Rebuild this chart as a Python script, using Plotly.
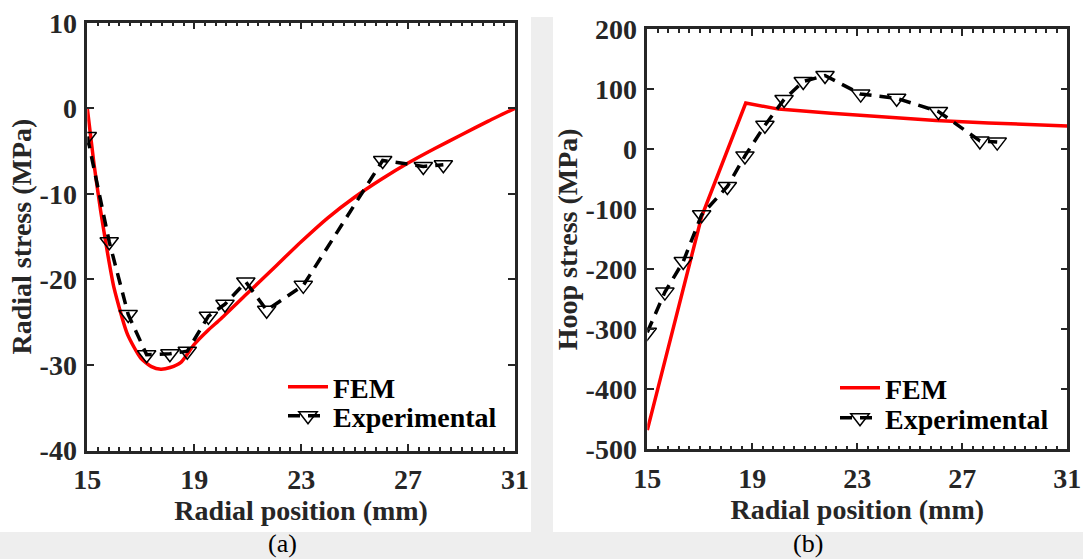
import plotly.graph_objects as go

W, H = 1083, 559

# ---------- data: (a) radial stress ----------
fem_a_x = [15, 15.25, 15.5, 15.75, 16, 16.5, 17, 17.4, 17.75, 18.1, 18.5, 19, 19.5, 20,
           21, 22, 23, 24, 25, 26, 27, 28, 29, 30, 31]
fem_a_y = [0, -6.5, -12, -16.8, -21, -26.4, -29.2, -30.2, -30.5, -30.3, -29.7, -27.6, -26.0, -24.6,
           -21.6, -18.6, -15.6, -12.8, -10.4, -8.3, -6.4, -4.7, -3.1, -1.5, 0]
exp_a_x = [15.0, 15.82, 16.53, 17.22, 18.09, 18.74, 19.53, 20.15, 20.93, 21.71, 23.08, 26.05, 27.57, 28.32]
exp_a_y = [-3.3, -15.6, -24.1, -28.8, -28.7, -28.4, -24.3, -22.9, -20.3, -23.6, -20.7, -6.1, -6.8, -6.6]

# ---------- data: (b) hoop stress ----------
fem_b_x = [15, 16, 17.07, 18.75, 20, 22, 24, 26, 28, 31]
fem_b_y = [-468, -296, -112, 77, 67, 60, 54, 48, 44, 39]
exp_b_x = [15.0, 15.67, 16.37, 17.07, 18.05, 18.72, 19.48, 20.21, 20.94, 21.77, 23.13, 24.50, 26.09, 27.67, 28.33]
exp_b_y = [-305, -238, -187, -109, -62, -11, 40, 83, 113, 123, 92, 85, 63, 14, 12]

x_ticks = [15, 19, 23, 27, 31]
ya_ticks = [10, 0, -10, -20, -30, -40]
yb_ticks = [200, 100, 0, -100, -200, -300, -400, -500]

FONT = "Liberation Serif"
DARK = "#262626"

fig = go.Figure()

line_fem = dict(color="#ff0000", width=3.5)
line_exp = dict(color="black", width=3.5, dash="12px,8px")
marker_exp = dict(symbol="triangle-down-open", size=16, color="black", line=dict(width=1.5, color="black"))

fig.add_trace(go.Scatter(x=fem_a_x, y=fem_a_y, mode="lines", line=dict(**line_fem, shape="spline", smoothing=0.6),
                         name="FEM", xaxis="x", yaxis="y", legend="legend"))
fig.add_trace(go.Scatter(x=exp_a_x, y=exp_a_y, mode="lines+markers", line=line_exp, marker=marker_exp,
                         name="Experimental", xaxis="x", yaxis="y", legend="legend2"))
fig.add_trace(go.Scatter(x=fem_b_x, y=fem_b_y, mode="lines", line=line_fem,
                         name="FEM", xaxis="x2", yaxis="y2", legend="legend3"))
fig.add_trace(go.Scatter(x=exp_b_x, y=exp_b_y, mode="lines+markers", line=line_exp, marker=marker_exp,
                         name="Experimental", xaxis="x2", yaxis="y2", legend="legend4"))

tickfont = dict(family=FONT, size=28, color=DARK, weight="bold")
titlefont = dict(family=FONT, size=28, color=DARK, weight="bold")

def xax(domain, anchor):
    return dict(domain=domain, anchor=anchor, range=[15, 31], tickvals=x_ticks,
                ticktext=[str(v) for v in x_ticks], automargin=False,
                ticks="inside", ticklen=7, tickwidth=2, tickcolor=DARK, ticklabelstandoff=2,
                minor=dict(ticks="inside", dtick=0.4, tick0=15, ticklen=4, tickwidth=1.5, tickcolor=DARK),
                showline=True, linewidth=2.5, linecolor=DARK, mirror="ticks", showgrid=False, zeroline=False,
                tickfont=tickfont, title=dict(text="Radial position (mm)", font=titlefont, standoff=0))

def yax(domain, anchor, rng, tv, title):
    return dict(domain=domain, anchor=anchor, range=rng, tickvals=tv,
                ticktext=[str(v) for v in tv], automargin=False,
                ticks="inside", ticklen=7, tickwidth=2, tickcolor=DARK, ticklabelstandoff=2,
                showline=True, linewidth=2.5, linecolor=DARK, mirror="ticks", showgrid=False, zeroline=False,
                tickfont=tickfont, title=dict(text=title, font=titlefont, standoff=0))

legfont = dict(family=FONT, size=28, color="black", weight="bold")

def leg(x, y):
    return dict(x=x / W, y=1 - y / H, xanchor="left", yanchor="top", bgcolor="rgba(0,0,0,0)",
                font=legfont, tracegroupgap=0, itemwidth=40)

fig.update_layout(
    width=W, height=H,
    margin=dict(l=0, r=0, t=0, b=0, autoexpand=False),
    paper_bgcolor="white", plot_bgcolor="white",
    xaxis=xax([87.3 / W, 515 / W], "y"),
    yaxis=yax([1 - 450.5 / H, 1 - 22.7 / H], "x", [-40, 10], ya_ticks, "Radial stress (MPa)"),
    xaxis2=xax([647.3 / W, 1067.3 / W], "y2"),
    yaxis2=yax([1 - 449.3 / H, 1 - 29.3 / H], "x2", [-500, 200], yb_ticks, "Hoop stress (MPa)"),
    legend=leg(283, 362),
    legend2=leg(283, 391),
    legend3=leg(835, 363),
    legend4=leg(835, 393),
    showlegend=True,
    shapes=[
        dict(type="rect", xref="paper", yref="paper", x0=531 / W, x1=553 / W, y0=0, y1=1 - 17 / H,
             fillcolor="#eeeeee", line=dict(width=0), layer="below"),
        dict(type="rect", xref="paper", yref="paper", x0=0, x1=1, y0=0, y1=1 - 532 / H,
             fillcolor="#eeeeee", line=dict(width=0), layer="below"),
    ],
    annotations=[
        dict(text="(a)", x=282 / W, y=1 - 543 / H, xref="paper", yref="paper", showarrow=False,
             font=dict(family=FONT, size=26, color="black"), xanchor="center", yanchor="middle", borderpad=0),
        dict(text="(b)", x=808 / W, y=1 - 543 / H, xref="paper", yref="paper", showarrow=False,
             font=dict(family=FONT, size=26, color="black"), xanchor="center", yanchor="middle", borderpad=0),
    ],
)

fig.write_html("out.html")
